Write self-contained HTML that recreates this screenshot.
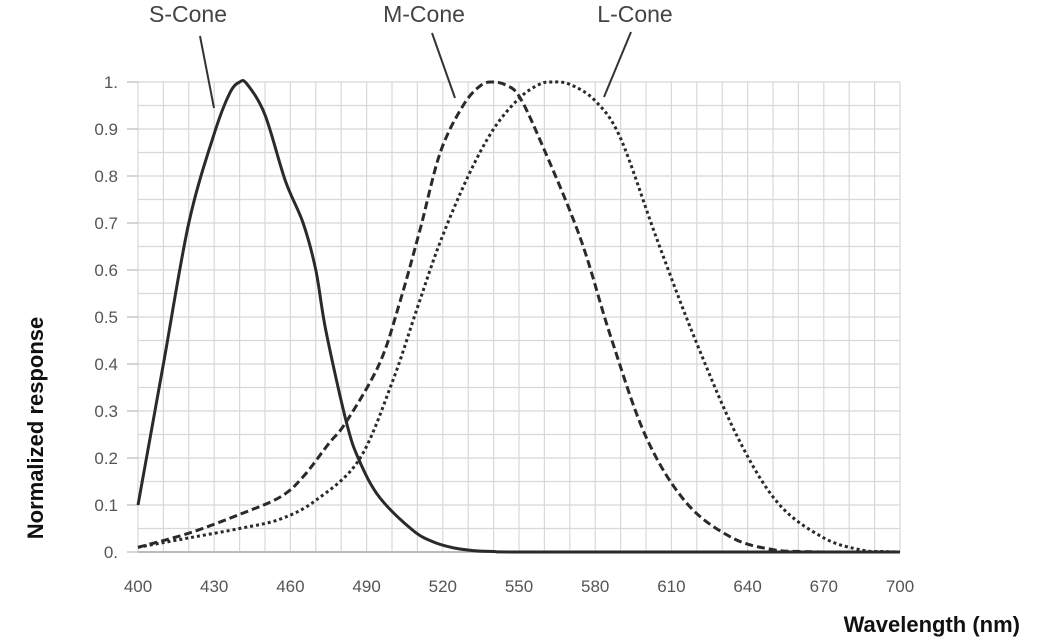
<!DOCTYPE html>
<html><head><meta charset="utf-8"><style>
body{margin:0;background:#fff;}
svg{display:block;font-family:"Liberation Sans",sans-serif;}
</style></head><body>
<svg id="s" width="1060" height="642" viewBox="0 0 1060 642" xmlns="http://www.w3.org/2000/svg">
<g id="grid" stroke="#d8d8d8" stroke-width="1.2"></g>
<g id="ticks" fill="#555" font-size="17"></g>
<g font-size="23" fill="#444">
<text x="188" y="22" text-anchor="middle">S-Cone</text>
<text x="424" y="22" text-anchor="middle">M-Cone</text>
<text x="635" y="22" text-anchor="middle">L-Cone</text>
</g>
<g stroke="#333" stroke-width="2">
<line x1="200" y1="36" x2="214" y2="108"/>
<line x1="432" y1="33" x2="455" y2="98"/>
<line x1="631" y1="32" x2="604" y2="97"/>
</g>
<g id="curves" fill="none" stroke="#2a2a2a" stroke-width="3"></g>
<text x="1020" y="632" text-anchor="end" font-size="22" font-weight="bold" fill="#111">Wavelength (nm)</text>
<text transform="translate(43,428) rotate(-90)" text-anchor="middle" font-size="22" font-weight="bold" fill="#111">Normalized response</text>
</svg>
<script>
const NS="http://www.w3.org/2000/svg";
const X=w=>138+(w-400)*2.54, Y=v=>552-v*470;
const g=document.getElementById('grid'),t=document.getElementById('ticks');
function el(p,tag,a,txt){const e=document.createElementNS(NS,tag);for(const k in a)e.setAttribute(k,a[k]);if(txt)e.textContent=txt;p.appendChild(e);return e;}
for(let w=400;w<=700;w+=10)el(g,'line',{x1:X(w),y1:Y(1),x2:X(w),y2:Y(0)});
for(let i=0;i<=20;i++)el(g,'line',{x1:X(400),y1:Y(i*0.05),x2:X(700),y2:Y(i*0.05)});
el(g,'line',{x1:X(400),y1:Y(0),x2:X(700),y2:Y(0),stroke:'#bbb','stroke-width':2});
const yl=['0.','0.1','0.2','0.3','0.4','0.5','0.6','0.7','0.8','0.9','1.'];
yl.forEach((s,i)=>{el(t,'text',{x:118,y:Y(i/10)+6,'text-anchor':'end'},s);el(g,'line',{x1:127,y1:Y(i/10),x2:138,y2:Y(i/10),stroke:'#bbb'});});
for(let w=400;w<=700;w+=30)el(t,'text',{x:X(w),y:592,'text-anchor':'middle'},String(w));
function path(d){const p=d.map(([w,v])=>[X(w),Y(v)]);let s=`M${p[0][0]},${p[0][1]}`;
for(let i=0;i<p.length-1;i++){const p0=p[Math.max(0,i-1)],p1=p[i],p2=p[i+1],p3=p[Math.min(p.length-1,i+2)];
s+=` C${p1[0]+(p2[0]-p0[0])/6},${p1[1]+(p2[1]-p0[1])/6} ${p2[0]-(p3[0]-p1[0])/6},${p2[1]-(p3[1]-p1[1])/6} ${p2[0]},${p2[1]}`;}return s;}
const S=[[400,0.1],[410,0.4],[420,0.7],[430,0.89],[436,0.975],[440,1],[443,0.995],[450,0.93],[458,0.79],[465,0.7],[470,0.6],[474,0.47],[482,0.277],[487,0.196],[495,0.117],[508,0.047],[516,0.022],[524,0.009],[532,0.003],[540,0.001],[550,0],[620,0],[700,0]];
const M=[[400,0.01],[420,0.04],[440,0.08],[456,0.117],[465,0.16],[475,0.23],[482,0.277],[495,0.40],[503,0.53],[511,0.685],[519,0.85],[528,0.95],[535,0.993],[540,1],[545,0.993],[550,0.97],[558,0.88],[574,0.67],[586,0.46],[600,0.245],[616,0.104],[634,0.03],[650,0.005],[662,0.001],[675,0],[700,0]];
const L=[[400,0.01],[420,0.03],[440,0.05],[456,0.07],[470,0.11],[487,0.196],[500,0.36],[510,0.52],[519,0.66],[530,0.8],[540,0.9],[550,0.965],[558,0.995],[563,1],[570,0.995],[580,0.96],[590,0.88],[604,0.67],[619,0.457],[636,0.245],[652,0.104],[670,0.03],[685,0.004],[694,0.001],[700,0]];
const c=document.getElementById('curves');
el(c,'path',{d:path(S)});
el(c,'path',{d:path(M),'stroke-dasharray':'8 4'});
el(c,'path',{d:path(L),'stroke-dasharray':'3 3'});
</script>
</body></html>
